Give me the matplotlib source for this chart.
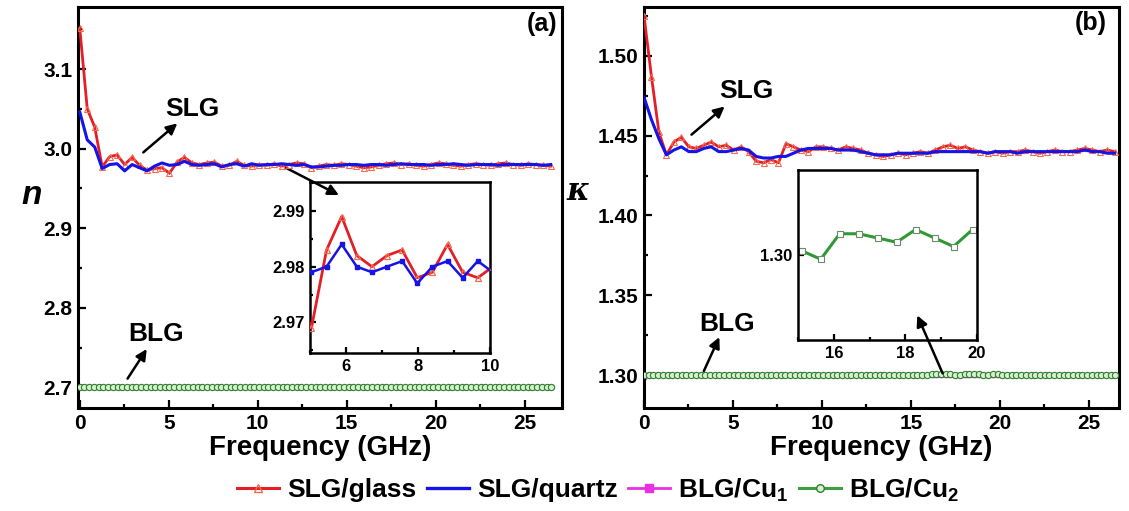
import matplotlib
matplotlib.use("Agg")
import matplotlib.pyplot as plt
from matplotlib.ticker import MultipleLocator, FormatStrFormatter
from matplotlib.lines import Line2D

plt.rcParams['font.family'] = ['Liberation Sans', 'DejaVu Sans']
plt.rcParams['font.weight'] = 'bold'
plt.rcParams['mathtext.fontset'] = 'custom'
plt.rcParams['mathtext.rm'] = 'Liberation Sans:bold'
plt.rcParams['mathtext.bf'] = 'Liberation Sans:bold'
plt.rcParams['mathtext.it'] = 'Liberation Sans:bold:italic'

# ---------------- data ----------------
freq_slg = [0.00, 0.42, 0.84, 1.26, 1.68, 2.10, 2.52, 2.94, 3.36, 3.78,
            4.20, 4.62, 5.04, 5.46, 5.88, 6.30, 6.72, 7.14, 7.56, 7.98,
            8.40, 8.82, 9.24, 9.66, 10.08, 10.50, 10.92, 11.34, 11.76, 12.18,
            12.60, 13.02, 13.44, 13.86, 14.28, 14.70, 15.12, 15.54, 15.96, 16.38,
            16.80, 17.22, 17.64, 18.06, 18.48, 18.90, 19.32, 19.74, 20.16, 20.58,
            21.00, 21.42, 21.84, 22.26, 22.68, 23.10, 23.52, 23.94, 24.36, 24.78,
            25.20, 25.62, 26.04, 26.46]

n_slg_glass = [3.151, 3.050, 3.027, 2.977, 2.990, 2.992, 2.980, 2.989, 2.979, 2.973,
               2.975, 2.976, 2.969, 2.983, 2.989, 2.982, 2.980, 2.982, 2.983, 2.978,
               2.979, 2.984, 2.979, 2.978, 2.980, 2.979, 2.981, 2.978, 2.980, 2.982,
               2.981, 2.976, 2.978, 2.980, 2.979, 2.981, 2.980, 2.978, 2.976, 2.977,
               2.979, 2.981, 2.982, 2.980, 2.981, 2.979, 2.978, 2.980, 2.982, 2.981,
               2.979, 2.978, 2.980, 2.981, 2.980, 2.979, 2.981, 2.982, 2.980, 2.979,
               2.981, 2.980, 2.979, 2.978]

n_slg_quartz = [3.046, 3.011, 3.002, 2.975, 2.980, 2.981, 2.972, 2.980, 2.976, 2.972,
                2.978, 2.982, 2.979, 2.980, 2.984, 2.980, 2.979, 2.980, 2.981, 2.977,
                2.980, 2.981, 2.978, 2.981, 2.979, 2.980, 2.980, 2.981, 2.980, 2.979,
                2.980, 2.977, 2.977, 2.978, 2.979, 2.979, 2.980, 2.980, 2.979, 2.980,
                2.980, 2.979, 2.980, 2.981, 2.980, 2.980, 2.980, 2.979, 2.980, 2.980,
                2.981, 2.980, 2.979, 2.980, 2.980, 2.980, 2.979, 2.980, 2.980, 2.980,
                2.980, 2.980, 2.979, 2.980]

k_slg_glass = [1.525, 1.487, 1.452, 1.438, 1.446, 1.449, 1.443, 1.442, 1.444, 1.446,
               1.443, 1.444, 1.441, 1.443, 1.440, 1.434, 1.433, 1.435, 1.433, 1.445,
               1.443, 1.441, 1.440, 1.443, 1.443, 1.442, 1.441, 1.443, 1.442, 1.441,
               1.439, 1.438, 1.437, 1.438, 1.439, 1.438, 1.439, 1.440, 1.439, 1.441,
               1.443, 1.444, 1.442, 1.443, 1.441, 1.440, 1.439, 1.440, 1.439, 1.440,
               1.440, 1.441, 1.440, 1.439, 1.440, 1.441, 1.440, 1.440, 1.441, 1.442,
               1.441, 1.440, 1.441, 1.440]

k_slg_quartz = [1.474, 1.460, 1.448, 1.438, 1.441, 1.443, 1.440, 1.440, 1.442, 1.443,
                1.440, 1.440, 1.441, 1.442, 1.441, 1.437, 1.436, 1.436, 1.437, 1.437,
                1.439, 1.441, 1.442, 1.442, 1.442, 1.442, 1.441, 1.441, 1.441, 1.440,
                1.439, 1.438, 1.438, 1.438, 1.439, 1.439, 1.439, 1.439, 1.439, 1.440,
                1.440, 1.440, 1.440, 1.440, 1.440, 1.440, 1.439, 1.440, 1.440, 1.440,
                1.439, 1.440, 1.440, 1.440, 1.440, 1.440, 1.440, 1.440, 1.440, 1.441,
                1.440, 1.440, 1.439, 1.439]

freq_blg = [0.000, 0.265, 0.530, 0.795, 1.060, 1.325, 1.590, 1.855, 2.120, 2.385,
            2.650, 2.915, 3.180, 3.445, 3.710, 3.975, 4.240, 4.505, 4.770, 5.035,
            5.300, 5.565, 5.830, 6.095, 6.360, 6.625, 6.890, 7.155, 7.420, 7.685,
            7.950, 8.215, 8.480, 8.745, 9.010, 9.275, 9.540, 9.805, 10.070, 10.335,
            10.600, 10.865, 11.130, 11.395, 11.660, 11.925, 12.190, 12.455, 12.720, 12.985,
            13.250, 13.515, 13.780, 14.045, 14.310, 14.575, 14.840, 15.105, 15.370, 15.635,
            15.900, 16.165, 16.430, 16.695, 16.960, 17.225, 17.490, 17.755, 18.020, 18.285,
            18.550, 18.815, 19.080, 19.345, 19.610, 19.875, 20.140, 20.405, 20.670, 20.935,
            21.200, 21.465, 21.730, 21.995, 22.260, 22.525, 22.790, 23.055, 23.320, 23.585,
            23.850, 24.115, 24.380, 24.645, 24.910, 25.175, 25.440, 25.705, 25.970, 26.235,
            26.500]

n_blg_cu1 = [2.700, 2.700, 2.700, 2.700, 2.700, 2.700, 2.700, 2.700, 2.700, 2.700,
             2.700, 2.700, 2.700, 2.700, 2.700, 2.700, 2.700, 2.700, 2.700, 2.700,
             2.700, 2.700, 2.700, 2.700, 2.700, 2.700, 2.700, 2.700, 2.700, 2.700,
             2.700, 2.700, 2.700, 2.700, 2.700, 2.700, 2.700, 2.700, 2.700, 2.700,
             2.700, 2.700, 2.700, 2.700, 2.700, 2.700, 2.700, 2.700, 2.700, 2.700,
             2.700, 2.700, 2.700, 2.700, 2.700, 2.700, 2.700, 2.700, 2.700, 2.700,
             2.700, 2.700, 2.700, 2.700, 2.700, 2.700, 2.700, 2.700, 2.700, 2.700,
             2.700, 2.700, 2.700, 2.700, 2.700, 2.700, 2.700, 2.700, 2.700, 2.700,
             2.700, 2.700, 2.700, 2.700, 2.700, 2.700, 2.700, 2.700, 2.700, 2.700,
             2.700, 2.700, 2.700, 2.700, 2.700, 2.700, 2.700, 2.700, 2.700, 2.700,
             2.700]
n_blg_cu2 = [2.701, 2.700, 2.700, 2.700, 2.700, 2.700, 2.700, 2.700, 2.700, 2.700,
             2.700, 2.700, 2.700, 2.700, 2.700, 2.700, 2.700, 2.700, 2.700, 2.700,
             2.700, 2.700, 2.700, 2.700, 2.700, 2.700, 2.700, 2.700, 2.700, 2.700,
             2.700, 2.700, 2.700, 2.700, 2.700, 2.700, 2.700, 2.700, 2.700, 2.700,
             2.700, 2.700, 2.700, 2.700, 2.700, 2.700, 2.700, 2.700, 2.700, 2.700,
             2.700, 2.700, 2.700, 2.700, 2.700, 2.700, 2.700, 2.700, 2.700, 2.700,
             2.700, 2.700, 2.700, 2.700, 2.700, 2.700, 2.700, 2.700, 2.700, 2.700,
             2.700, 2.700, 2.700, 2.700, 2.700, 2.700, 2.700, 2.700, 2.700, 2.700,
             2.700, 2.700, 2.700, 2.700, 2.700, 2.700, 2.700, 2.700, 2.700, 2.700,
             2.700, 2.700, 2.700, 2.700, 2.700, 2.700, 2.700, 2.700, 2.700, 2.700,
             2.700]

k_blg_cu1 = [1.2990, 1.3000, 1.3000, 1.3000, 1.3000, 1.3000, 1.3000, 1.3000, 1.3000, 1.3000,
             1.3000, 1.3000, 1.3000, 1.3000, 1.3000, 1.3000, 1.3000, 1.3000, 1.3000, 1.3000,
             1.3000, 1.3000, 1.3000, 1.3000, 1.3000, 1.3000, 1.3000, 1.3000, 1.3000, 1.3000,
             1.3000, 1.3000, 1.3000, 1.3000, 1.3000, 1.3000, 1.3000, 1.3000, 1.3000, 1.3000,
             1.3000, 1.3000, 1.3000, 1.3000, 1.3000, 1.3000, 1.3000, 1.3000, 1.3000, 1.3000,
             1.3000, 1.3000, 1.3000, 1.3000, 1.3000, 1.3000, 1.3000, 1.3000, 1.3000, 1.3000,
             1.3000, 1.3000, 1.3000, 1.3000, 1.3000, 1.3000, 1.3000, 1.3000, 1.3000, 1.3000,
             1.3000, 1.3000, 1.3000, 1.3000, 1.3000, 1.3000, 1.3000, 1.3000, 1.3000, 1.3000,
             1.3000, 1.3000, 1.3000, 1.3000, 1.3000, 1.3000, 1.3000, 1.3000, 1.3000, 1.3000,
             1.3000, 1.3000, 1.3000, 1.3000, 1.3000, 1.3000, 1.3000, 1.3000, 1.3000, 1.3000,
             1.3000]
k_blg_cu2 = [1.3000, 1.3000, 1.3000, 1.3000, 1.3000, 1.3000, 1.3000, 1.3000, 1.3000, 1.3000,
             1.3000, 1.3000, 1.3000, 1.3000, 1.3000, 1.3000, 1.3000, 1.3000, 1.3000, 1.3000,
             1.3000, 1.3000, 1.3000, 1.3000, 1.3000, 1.3000, 1.3000, 1.3000, 1.3000, 1.3000,
             1.3000, 1.3000, 1.3000, 1.3000, 1.3000, 1.3000, 1.3000, 1.3000, 1.3000, 1.3000,
             1.3000, 1.3000, 1.3000, 1.3000, 1.3000, 1.3000, 1.3000, 1.3000, 1.3000, 1.3000,
             1.3000, 1.3000, 1.3000, 1.3000, 1.3000, 1.3000, 1.3000, 1.3001, 1.3000, 1.2999,
             1.3002, 1.3005, 1.3005, 1.3005, 1.3004, 1.3004, 1.3003, 1.3003, 1.3004, 1.3006,
             1.3005, 1.3004, 1.3003, 1.3002, 1.3004, 1.3006, 1.3003, 1.3000, 1.3000, 1.3000,
             1.3000, 1.3000, 1.3000, 1.3000, 1.3000, 1.3000, 1.3000, 1.3000, 1.3000, 1.3000,
             1.3000, 1.3000, 1.3000, 1.3000, 1.3000, 1.3000, 1.3000, 1.3000, 1.3000, 1.3000,
             1.3000]

legend_labels = ['SLG/glass', 'SLG/quartz', r'BLG/Cu$_\mathbf{1}$', r'BLG/Cu$_\mathbf{2}$']
xlabel = 'Frequency (GHz)'

# ---------------- style ----------------
RED = '#e41e26'
RED_M = '#f26a4f'
BLUE = '#1414e6'
MAG = '#e830e0'
GREEN = '#3f9f3f'
GREEN_E = '#2f7f2f'
GREEN_F = '#d8f0d0'

W, H = 1129, 511
fig = plt.figure(figsize=(W / 100, H / 100), dpi=100)


def frac(x0, y0, x1, y1):
    return [x0 / W, 1 - y1 / H, (x1 - x0) / W, (y1 - y0) / H]


def style_axes(ax, spw=2.2, lab=15, maj=6, mino=3):
    for s in ax.spines.values():
        s.set_linewidth(spw)
    ax.tick_params(which='both', direction='in', top=False, right=False,
                   width=1.6, labelsize=lab)
    ax.tick_params(which='major', length=maj, pad=4)
    ax.tick_params(which='minor', length=mino)
    for t in ax.get_xticklabels() + ax.get_yticklabels():
        t.set_fontweight('bold')


ARROW = dict(arrowstyle='-|>', color='black', lw=1.8, mutation_scale=16)

axa = fig.add_axes(frac(78, 7, 562, 408))
axb = fig.add_axes(frac(644, 7, 1119, 408))

# ---- panel (a) ----
axa.plot(freq_blg, n_blg_cu1, color=MAG, lw=1.5, marker='s', ms=3, zorder=2)
axa.plot(freq_blg, n_blg_cu2, color=GREEN, lw=2.2, marker='o', ms=4.5,
         mfc=GREEN_F, mec=GREEN_E, mew=0.8, zorder=3)
axa.plot(freq_slg, n_slg_glass, color=RED, lw=2.0, marker='^', ms=4.5,
         mfc='none', mec=RED_M, mew=0.8, zorder=4)
axa.plot(freq_slg, n_slg_quartz, color=BLUE, lw=2.2, zorder=5)
axa.set_xlim(-0.1, 27.1)
axa.set_ylim(2.674, 3.178)
axa.xaxis.set_major_locator(MultipleLocator(5))
axa.xaxis.set_minor_locator(MultipleLocator(2.5))
axa.yaxis.set_major_locator(MultipleLocator(0.1))
axa.yaxis.set_minor_locator(MultipleLocator(0.05))
axa.yaxis.set_major_formatter(FormatStrFormatter('%.1f'))
style_axes(axa)
axa.set_xlabel(xlabel, fontsize=20, fontweight='bold', labelpad=2)
axa.text(0.99, 0.988, '(a)', transform=axa.transAxes, fontsize=18,
         fontweight='bold', ha='right', va='top')
axa.text(6.3, 3.050, 'SLG', fontsize=19, fontweight='bold', ha='center', va='center')
axa.annotate('', xy=(5.6, 3.034), xytext=(3.45, 2.993), arrowprops=ARROW)
axa.annotate('', xy=(14.7, 2.940), xytext=(11.4, 2.978), arrowprops=ARROW)
axa.text(4.3, 2.767, 'BLG', fontsize=19, fontweight='bold', ha='center', va='center')
axa.annotate('', xy=(3.85, 2.751), xytext=(2.6, 2.708), arrowprops=ARROW)

# ---- panel (b) ----
axb.plot(freq_blg, k_blg_cu1, color=MAG, lw=1.5, marker='s', ms=3, zorder=2)
axb.plot(freq_blg, k_blg_cu2, color=GREEN, lw=2.2, marker='o', ms=4.5,
         mfc=GREEN_F, mec=GREEN_E, mew=0.8, zorder=3)
axb.plot(freq_slg, k_slg_glass, color=RED, lw=2.0, marker='^', ms=4.5,
         mfc='none', mec=RED_M, mew=0.8, zorder=4)
axb.plot(freq_slg, k_slg_quartz, color=BLUE, lw=2.2, zorder=5)
axb.set_xlim(-0.0, 26.7)
axb.set_ylim(1.2794, 1.5306)
axb.xaxis.set_major_locator(MultipleLocator(5))
axb.xaxis.set_minor_locator(MultipleLocator(2.5))
axb.yaxis.set_major_locator(MultipleLocator(0.05))
axb.yaxis.set_minor_locator(MultipleLocator(0.025))
axb.yaxis.set_major_formatter(FormatStrFormatter('%.2f'))
style_axes(axb)
axb.set_xlabel(xlabel, fontsize=20, fontweight='bold', labelpad=2)
axb.text(0.975, 0.99, '(b)', transform=axb.transAxes, fontsize=18,
         fontweight='bold', ha='right', va='top')
axb.text(5.75, 1.478, 'SLG', fontsize=19, fontweight='bold', ha='center', va='center')
axb.annotate('', xy=(4.65, 1.4694), xytext=(2.55, 1.4495), arrowprops=ARROW)
axb.text(4.65, 1.3323, 'BLG', fontsize=19, fontweight='bold', ha='center', va='center')
axb.annotate('', xy=(4.3, 1.3254), xytext=(3.3, 1.3010), arrowprops=ARROW)
axb.annotate('', xy=(15.3, 1.3390), xytext=(16.85, 1.2995), arrowprops=ARROW)

# y labels
fig.text(32 / W, 1 - 195 / H, 'n', fontsize=24, fontweight='bold', style='italic',
         ha='center', va='center')
fig.text(578 / W, 1 - 192 / H, 'κ', fontsize=22, style='italic',
         family=['DejaVu Serif'], ha='center', va='center')

# ---- inset (a) ----
ia = fig.add_axes(frac(310, 182, 490, 353))
ia.patch.set_alpha(0)
ia.plot(freq_slg, n_slg_glass, color=RED, lw=2.0, marker='^', ms=5,
        mfc='none', mec=RED_M, mew=0.9, zorder=3)
ia.plot(freq_slg, n_slg_quartz, color=BLUE, lw=1.8, marker='s', ms=3.5,
        mfc=BLUE, mec=BLUE, zorder=4)
ia.set_xlim(5, 10)
ia.set_ylim(2.9645, 2.9952)
ia.xaxis.set_major_locator(MultipleLocator(2))
ia.xaxis.set_minor_locator(MultipleLocator(1))
ia.yaxis.set_major_locator(MultipleLocator(0.01))
ia.yaxis.set_minor_locator(MultipleLocator(0.005))
ia.yaxis.set_major_formatter(FormatStrFormatter('%.2f'))
style_axes(ia, spw=1.8, lab=12, maj=4, mino=2.5)

# ---- inset (b) ----
ib = fig.add_axes(frac(798, 170, 977, 340))
ib.patch.set_alpha(0)
ib.plot(freq_blg[57:77:2], k_blg_cu2[57:77:2], color='#2f9a35', lw=2.2, marker='s', ms=4,
        mfc='white', mec='#6a8a6a', mew=0.8)
ib.set_xlim(15, 20)
ib.set_ylim(1.2980, 1.3020)
ib.xaxis.set_major_locator(MultipleLocator(2))
ib.xaxis.set_minor_locator(MultipleLocator(1))
ib.yaxis.set_major_locator(MultipleLocator(0.01))
ib.yaxis.set_major_formatter(FormatStrFormatter('%.2f'))
style_axes(ib, spw=1.8, lab=12, maj=4, mino=2.5)

# ---- legend ----
handles = [
    Line2D([], [], color=RED, lw=2.2, marker='^', ms=6, mfc='none', mec=RED_M, mew=1.0),
    Line2D([], [], color=BLUE, lw=2.4),
    Line2D([], [], color=MAG, lw=2.0, marker='s', ms=6, mfc=MAG, mec=MAG),
    Line2D([], [], color=GREEN, lw=2.2, marker='o', ms=5.5, mfc=GREEN_F, mec=GREEN_E, mew=1.0),
]
leg = fig.legend(handles, legend_labels, loc='center', bbox_to_anchor=(598 / W, 1 - 490 / H),
                 ncol=4, frameon=False, fontsize=19, handlelength=1.6, handletextpad=0.3,
                 columnspacing=0.4, borderpad=0.1)
for t in leg.get_texts():
    t.set_fontweight('bold')

fig.savefig('out.png', dpi=100)
